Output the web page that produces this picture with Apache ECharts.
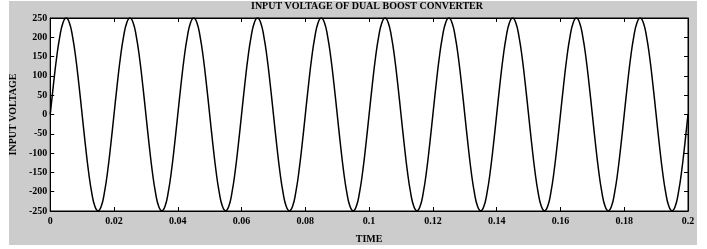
<!DOCTYPE html>
<html>
<head>
<meta charset="utf-8">
<script src="https://cdn.jsdelivr.net/npm/echarts@6/dist/echarts.min.js"></script>
<style>
  html, body { margin: 0; padding: 0; background: #ffffff; }
  #chart { width: 707px; height: 249px; }
</style>
</head>
<body>
<div id="chart"></div>
<script>
// sample spacing of the trace (s)
const timeStep = 0.001;

// input voltage, one value per sample
const voltage = [
  0, 77, 147, 202, 238, 250, 238, 202, 147, 77, 0, -77, -147, -202, -238, -250, -238, -202, -147, -77,
  0, 77, 147, 202, 238, 250, 238, 202, 147, 77, 0, -77, -147, -202, -238, -250, -238, -202, -147, -77,
  0, 77, 147, 202, 238, 250, 238, 202, 147, 77, 0, -77, -147, -202, -238, -250, -238, -202, -147, -77,
  0, 77, 147, 202, 238, 250, 238, 202, 147, 77, 0, -77, -147, -202, -238, -250, -238, -202, -147, -77,
  0, 77, 147, 202, 238, 250, 238, 202, 147, 77, 0, -77, -147, -202, -238, -250, -238, -202, -147, -77,
  0, 77, 147, 202, 238, 250, 238, 202, 147, 77, 0, -77, -147, -202, -238, -250, -238, -202, -147, -77,
  0, 77, 147, 202, 238, 250, 238, 202, 147, 77, 0, -77, -147, -202, -238, -250, -238, -202, -147, -77,
  0, 77, 147, 202, 238, 250, 238, 202, 147, 77, 0, -77, -147, -202, -238, -250, -238, -202, -147, -77,
  0, 77, 147, 202, 238, 250, 238, 202, 147, 77, 0, -77, -147, -202, -238, -250, -238, -202, -147, -77,
  0, 77, 147, 202, 238, 250, 238, 202, 147, 77, 0, -77, -147, -202, -238, -250, -238, -202, -147, -77,
  0
];

const xTicks = { min: 0, max: 0.2, interval: 0.02 };
const yTicks = { min: -250, max: 250, interval: 50 };

const titleText = 'INPUT VOLTAGE OF DUAL BOOST CONVERTER';
const xName = 'TIME';
const yName = 'INPUT VOLTAGE';

const font = 'Liberation Serif';
const points = voltage.map((v, i) => [i * timeStep, v]);

const chart = echarts.init(document.getElementById('chart'));

const tickStyle = { show: true, inside: true, length: 4, lineStyle: { color: '#000', width: 1 } };
const lineStyle = { show: true, onZero: false, lineStyle: { color: '#000', width: 1 } };

chart.setOption({
  animation: false,
  backgroundColor: '#ffffff',
  graphic: [{
    type: 'rect',
    shape: { x: 9, y: 1, width: 688, height: 244 },
    style: { fill: '#cccccc' },
    z: -10,
    silent: true
  }],
  title: {
    text: titleText,
    left: 367,
    textAlign: 'center',
    top: 1,
    padding: 0,
    textStyle: { fontFamily: font, fontWeight: 'bold', fontSize: 10, color: '#000' }
  },
  grid: {
    left: 46, right: 19, top: 18, bottom: 35,
    show: true,
    backgroundColor: '#ffffff',
    borderColor: '#000',
    borderWidth: 1
  },
  xAxis: [{
    type: 'value',
    min: xTicks.min, max: xTicks.max, interval: xTicks.interval,
    name: xName,
    nameLocation: 'middle',
    nameGap: 23,
    nameTextStyle: { fontFamily: font, fontWeight: 'bold', fontSize: 10, color: '#000' },
    axisLine: lineStyle,
    axisTick: tickStyle,
    splitLine: { show: false },
    axisLabel: { fontFamily: font, fontWeight: 'bold', fontSize: 10, color: '#000', margin: 5 }
  }, {
    type: 'value',
    position: 'top',
    min: xTicks.min, max: xTicks.max, interval: xTicks.interval,
    axisLine: lineStyle,
    axisTick: tickStyle,
    splitLine: { show: false },
    axisLabel: { show: false }
  }],
  yAxis: [{
    type: 'value',
    min: yTicks.min, max: yTicks.max, interval: yTicks.interval,
    name: yName,
    nameLocation: 'middle',
    nameGap: 27,
    nameTextStyle: { fontFamily: font, fontWeight: 'bold', fontSize: 10, color: '#000' },
    axisLine: lineStyle,
    axisTick: tickStyle,
    splitLine: { show: false },
    axisLabel: { fontFamily: font, fontWeight: 'bold', fontSize: 10, color: '#000', margin: 3 }
  }, {
    type: 'value',
    position: 'right',
    min: yTicks.min, max: yTicks.max, interval: yTicks.interval,
    axisLine: lineStyle,
    axisTick: tickStyle,
    splitLine: { show: false },
    axisLabel: { show: false }
  }],
  series: [{
    type: 'line',
    data: points,
    xAxisIndex: 0,
    yAxisIndex: 0,
    smooth: true,
    showSymbol: false,
    lineStyle: { color: '#000', width: 1.5 }
  }]
});
</script>
</body>
</html>
